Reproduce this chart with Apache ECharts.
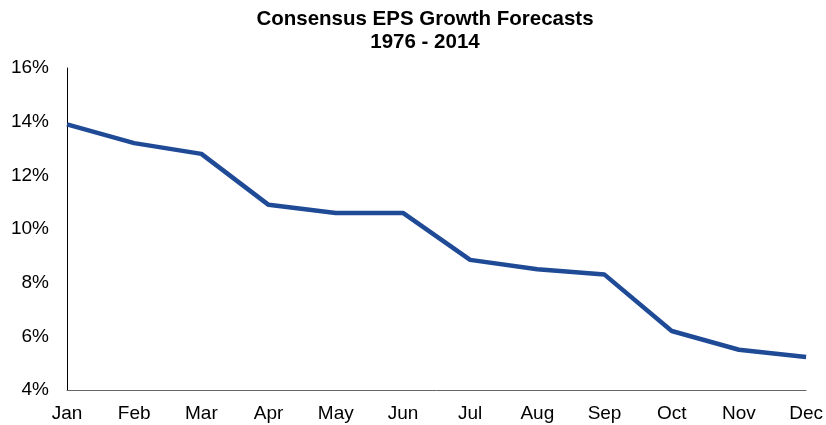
<!DOCTYPE html>
<html><head><meta charset="utf-8">
<script src="https://cdn.jsdelivr.net/npm/echarts@6/dist/echarts.min.js"></script>
<style>html,body{margin:0;padding:0;background:#fff}#c{width:826px;height:425px}</style>
</head><body><div id="c"></div>
<script>
const months = ['Jan','Feb','Mar','Apr','May','Jun','Jul','Aug','Sep','Oct','Nov','Dec'];
const epsGrowth = [13.9, 13.2, 12.8, 10.9, 10.6, 10.6, 8.85, 8.5, 8.3, 6.2, 5.5, 5.23];
const yTicks = [4, 6, 8, 10, 12, 14, 16];

const chart = echarts.init(document.getElementById('c'));
chart.setOption({
  animation: false,
  title: {
    text: 'Consensus EPS Growth Forecasts\n1976 - 2014',
    left: 420, textAlign: 'center', top: 3,
    textStyle: {fontFamily: 'Liberation Sans, Arial', fontWeight: 'bold', fontSize: 20.5, lineHeight: 23, color: '#000'}
  },
  grid: {left: 67, right: 18, top: 68, bottom: 35, containLabel: false},
  xAxis: {
    type: 'category', data: months, boundaryGap: false,
    axisLine: {lineStyle: {color: '#666', width: 1}},
    axisTick: {show: false},
    axisLabel: {fontFamily: 'Liberation Sans, Arial', fontSize: 19, color: '#000', margin: 14, interval: 0},
    splitLine: {show: false}
  },
  yAxis: {
    type: 'value', min: yTicks[0], max: yTicks[yTicks.length-1], interval: 2,
    axisLine: {show: true, lineStyle: {color: '#000', width: 1}},
    axisTick: {show: false},
    axisLabel: {fontFamily: 'Liberation Sans, Arial', fontSize: 19, color: '#000', margin: 18, formatter: v => v + '%'},
    splitLine: {show: false}
  },
  series: [{
    type: 'line', data: epsGrowth, symbol: 'none',
    lineStyle: {color: '#1F4A96', width: 4.5}
  }]
});
</script></body></html>
